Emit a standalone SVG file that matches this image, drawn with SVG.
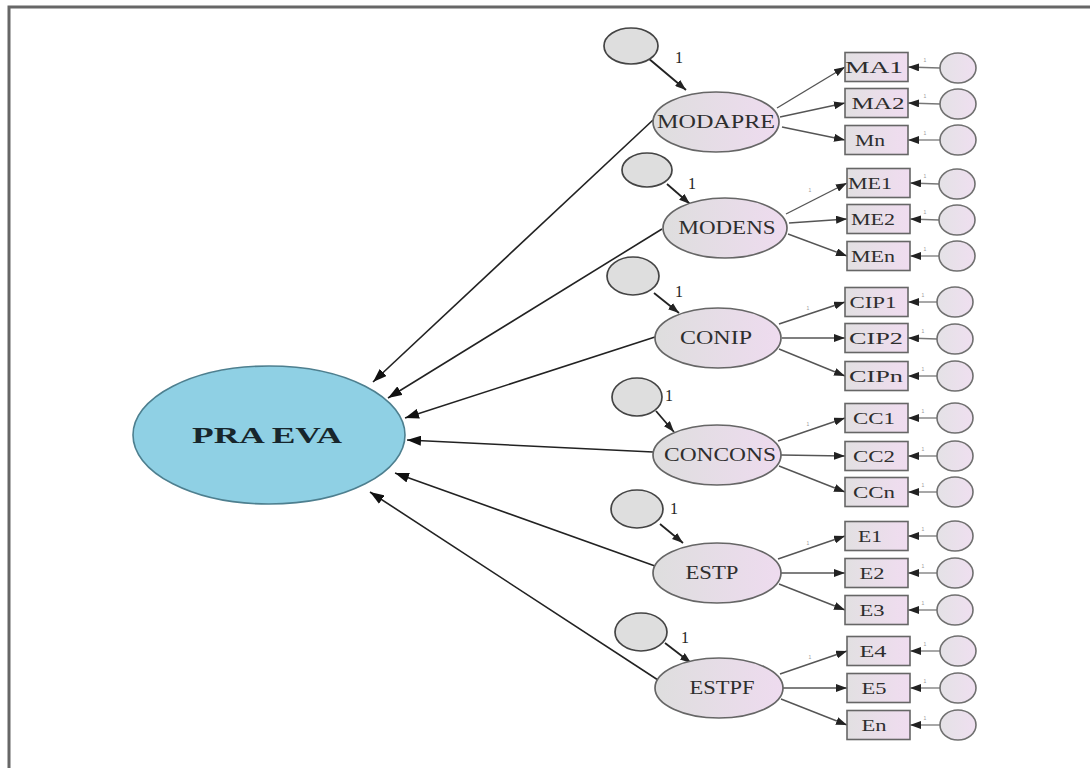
<svg xmlns="http://www.w3.org/2000/svg" width="1090" height="768" viewBox="0 0 1090 768">
<defs>
  <linearGradient id="latFill" x1="0" y1="0" x2="1" y2="0">
    <stop offset="0" stop-color="#dedede"/>
    <stop offset="1" stop-color="#eedbef"/>
  </linearGradient>
  <linearGradient id="obsFill" x1="0" y1="0" x2="1" y2="0">
    <stop offset="0" stop-color="#e2e0e2"/>
    <stop offset="1" stop-color="#f0dcf0"/>
  </linearGradient>
  <linearGradient id="resFill" x1="0" y1="0" x2="1" y2="0">
    <stop offset="0" stop-color="#e4e2e6"/>
    <stop offset="1" stop-color="#efdff0"/>
  </linearGradient>
  <marker id="ah" markerWidth="14" markerHeight="10" refX="14" refY="5" orient="auto" markerUnits="userSpaceOnUse">
    <path d="M0,0 L14,5 L0,10 z" fill="#111"/>
  </marker>
  <marker id="ahs" markerWidth="11" markerHeight="8" refX="11" refY="4" orient="auto" markerUnits="userSpaceOnUse">
    <path d="M0,0 L11,4 L0,8 z" fill="#222"/>
  </marker>
</defs>
<style>
  .lat { fill: url(#latFill); stroke: #666; stroke-width: 1.7; }
  .err { fill: #dedede; stroke: #444; stroke-width: 1.7; }
  .obs { fill: url(#obsFill); stroke: #666; stroke-width: 1.6; }
  .res { fill: url(#resFill); stroke: #707070; stroke-width: 1.6; }
  .main { fill: #8fd0e4; stroke: #4d7f8f; stroke-width: 1.6; }
  .t { font-family: "Liberation Serif", "Times New Roman", serif; fill: #2e2e2e; text-anchor: middle; }
  .lt { font-size: 18px; }
  .ot { font-size: 16px; }
  .one { font-family: "Liberation Serif", serif; font-size: 16px; fill: #222222; }
  .tiny { font-family: "Liberation Sans", sans-serif; font-size: 5px; fill: #999999; text-anchor: middle; }
  .big { stroke: #222; stroke-width: 1.6; fill: none; marker-end: url(#ah); }
  .ld { stroke: #555; stroke-width: 1.4; fill: none; marker-end: url(#ahs); }
  .ea { stroke: #222; stroke-width: 1.8; fill: none; marker-end: url(#ahs); }
  .ra { stroke: #777; stroke-width: 1.3; fill: none; marker-end: url(#ahs); }
</style>
<rect width="1090" height="768" fill="#ffffff"/>
<g id="frame">
  <path d="M9,768 L9,7 L1090,7" fill="none" stroke="#676767" stroke-width="3"/>
</g>

<g id="connectors">
  <line class="big" x1="653" y1="120" x2="373" y2="382"/>
  <line class="big" x1="662" y1="229" x2="388" y2="398"/>
  <line class="big" x1="655" y1="337" x2="405" y2="418"/>
  <line class="big" x1="653" y1="452" x2="407" y2="440"/>
  <line class="big" x1="655" y1="566" x2="395" y2="473"/>
  <line class="big" x1="658" y1="680" x2="370" y2="492"/>
  <line class="ea" x1="648" y1="58" x2="686" y2="90"/>
  <line class="ea" x1="667" y1="184" x2="690" y2="204"/>
  <line class="ea" x1="654" y1="293" x2="679" y2="313"/>
  <line class="ea" x1="656" y1="411" x2="674" y2="432"/>
  <line class="ea" x1="660" y1="524" x2="683" y2="543"/>
  <line class="ea" x1="665" y1="643" x2="691" y2="663"/>
  <text class="one" x="675" y="63">1</text>
  <text class="one" x="688" y="189">1</text>
  <text class="one" x="675" y="297">1</text>
  <text class="one" x="665" y="401">1</text>
  <text class="one" x="670" y="514">1</text>
  <text class="one" x="681" y="643">1</text>
  <line class="ld" x1="777" y1="108" x2="845" y2="67"/>
  <line class="ld" x1="780" y1="117" x2="845" y2="103"/>
  <line class="ld" x1="782" y1="127" x2="845" y2="140"/>
  <line class="ld" x1="786" y1="214" x2="847" y2="183"/>
  <line class="ld" x1="789" y1="223" x2="847" y2="219"/>
  <line class="ld" x1="788" y1="234" x2="847" y2="256"/>
  <line class="ld" x1="779" y1="324" x2="845" y2="302"/>
  <line class="ld" x1="782" y1="338" x2="845" y2="338"/>
  <line class="ld" x1="779" y1="349" x2="845" y2="376"/>
  <line class="ld" x1="778" y1="441" x2="845" y2="418"/>
  <line class="ld" x1="781" y1="455" x2="845" y2="456"/>
  <line class="ld" x1="779" y1="466" x2="845" y2="492"/>
  <line class="ld" x1="778" y1="559" x2="845" y2="536"/>
  <line class="ld" x1="781" y1="573" x2="845" y2="573"/>
  <line class="ld" x1="779" y1="584" x2="845" y2="610"/>
  <line class="ld" x1="780" y1="674" x2="847" y2="651"/>
  <line class="ld" x1="783" y1="688" x2="847" y2="688"/>
  <line class="ld" x1="781" y1="699" x2="847" y2="725"/>
  <text class="tiny" x="810" y="192">1</text>
  <text class="tiny" x="808" y="310">1</text>
  <text class="tiny" x="808" y="426">1</text>
  <text class="tiny" x="808" y="545">1</text>
  <text class="tiny" x="810" y="659">1</text>
  <line class="ra" x1="940" y1="68" x2="908" y2="67"/>
  <line class="ra" x1="940" y1="104" x2="908" y2="103"/>
  <line class="ra" x1="940" y1="140" x2="908" y2="140"/>
  <line class="ra" x1="939" y1="184" x2="910" y2="183"/>
  <line class="ra" x1="939" y1="220" x2="910" y2="219"/>
  <line class="ra" x1="939" y1="256" x2="910" y2="256"/>
  <line class="ra" x1="937" y1="302" x2="908" y2="302"/>
  <line class="ra" x1="937" y1="339" x2="908" y2="338"/>
  <line class="ra" x1="937" y1="376" x2="908" y2="376"/>
  <line class="ra" x1="937" y1="418" x2="908" y2="418"/>
  <line class="ra" x1="937" y1="456" x2="908" y2="456"/>
  <line class="ra" x1="937" y1="492" x2="908" y2="492"/>
  <line class="ra" x1="937" y1="536" x2="908" y2="536"/>
  <line class="ra" x1="937" y1="573" x2="908" y2="573"/>
  <line class="ra" x1="937" y1="610" x2="908" y2="610"/>
  <line class="ra" x1="940" y1="651" x2="910" y2="651"/>
  <line class="ra" x1="940" y1="688" x2="910" y2="688"/>
  <line class="ra" x1="940" y1="725" x2="910" y2="725"/>
  <text class="tiny" x="925" y="62">1</text>
  <text class="tiny" x="925" y="98">1</text>
  <text class="tiny" x="925" y="135">1</text>
  <text class="tiny" x="925" y="178">1</text>
  <text class="tiny" x="925" y="214">1</text>
  <text class="tiny" x="925" y="251">1</text>
  <text class="tiny" x="923" y="297">1</text>
  <text class="tiny" x="923" y="333">1</text>
  <text class="tiny" x="923" y="371">1</text>
  <text class="tiny" x="923" y="413">1</text>
  <text class="tiny" x="923" y="451">1</text>
  <text class="tiny" x="923" y="487">1</text>
  <text class="tiny" x="923" y="531">1</text>
  <text class="tiny" x="923" y="568">1</text>
  <text class="tiny" x="923" y="605">1</text>
  <text class="tiny" x="925" y="646">1</text>
  <text class="tiny" x="925" y="683">1</text>
  <text class="tiny" x="925" y="720">1</text>
</g>

<g id="PRAEVA">
  <ellipse class="main" cx="269" cy="435" rx="136" ry="69"/>
  <text class="t" x="267" y="443" font-size="23" font-weight="bold" textLength="150" lengthAdjust="spacingAndGlyphs" style="fill:#17262c">PRA EVA</text>
</g>

<g id="MODAPRE">
  <ellipse class="err" cx="631" cy="46" rx="27" ry="18"/>
  <ellipse class="lat" cx="716" cy="122" rx="63" ry="30"/>
  <text class="t lt" x="716" y="128" textLength="118" lengthAdjust="spacingAndGlyphs">MODAPRE</text>
</g>
<g id="MODENS">
  <ellipse class="err" cx="647" cy="170" rx="25" ry="17"/>
  <ellipse class="lat" cx="725" cy="228" rx="62" ry="30"/>
  <text class="t lt" x="727" y="234" textLength="97" lengthAdjust="spacingAndGlyphs">MODENS</text>
</g>
<g id="CONIP">
  <ellipse class="err" cx="633" cy="276" rx="26" ry="19"/>
  <ellipse class="lat" cx="718" cy="338" rx="63" ry="30"/>
  <text class="t lt" x="716" y="344" textLength="72" lengthAdjust="spacingAndGlyphs">CONIP</text>
</g>
<g id="CONCONS">
  <ellipse class="err" cx="637" cy="397" rx="25" ry="19"/>
  <ellipse class="lat" cx="717" cy="455" rx="64" ry="30"/>
  <text class="t lt" x="720" y="461" textLength="112" lengthAdjust="spacingAndGlyphs">CONCONS</text>
</g>
<g id="ESTP">
  <ellipse class="err" cx="637" cy="509" rx="26" ry="19"/>
  <ellipse class="lat" cx="717" cy="573" rx="64" ry="30"/>
  <text class="t lt" x="712" y="579" textLength="53" lengthAdjust="spacingAndGlyphs">ESTP</text>
</g>
<g id="ESTPF">
  <ellipse class="err" cx="641" cy="632" rx="26" ry="19"/>
  <ellipse class="lat" cx="719" cy="688" rx="64" ry="30"/>
  <text class="t lt" x="722" y="694" textLength="65" lengthAdjust="spacingAndGlyphs">ESTPF</text>
</g>

<g id="MA1"><rect class="obs" x="845" y="52.5" width="63" height="29"/><ellipse class="res" cx="958" cy="68" rx="18" ry="15"/><text class="t ot" x="874" y="73" textLength="58" lengthAdjust="spacingAndGlyphs">MA1</text></g>
<g id="MA2"><rect class="obs" x="845" y="88.5" width="63" height="29"/><ellipse class="res" cx="958" cy="104" rx="18" ry="15"/><text class="t ot" x="878" y="109" textLength="53" lengthAdjust="spacingAndGlyphs">MA2</text></g>
<g id="Mn"><rect class="obs" x="845" y="125.5" width="63" height="29"/><ellipse class="res" cx="958" cy="140" rx="18" ry="15"/><text class="t ot" x="870" y="146" textLength="30" lengthAdjust="spacingAndGlyphs">Mn</text></g>

<g id="ME1"><rect class="obs" x="847" y="168.5" width="63" height="29"/><ellipse class="res" cx="957" cy="184" rx="18" ry="15"/><text class="t ot" x="870" y="189" textLength="44" lengthAdjust="spacingAndGlyphs">ME1</text></g>
<g id="ME2"><rect class="obs" x="847" y="204.5" width="63" height="29"/><ellipse class="res" cx="957" cy="220" rx="18" ry="15"/><text class="t ot" x="873" y="225" textLength="44" lengthAdjust="spacingAndGlyphs">ME2</text></g>
<g id="MEn"><rect class="obs" x="847" y="241.5" width="63" height="29"/><ellipse class="res" cx="957" cy="256" rx="18" ry="15"/><text class="t ot" x="873" y="262" textLength="44" lengthAdjust="spacingAndGlyphs">MEn</text></g>

<g id="CIP1"><rect class="obs" x="845" y="287.5" width="63" height="29"/><ellipse class="res" cx="955" cy="302" rx="18" ry="15"/><text class="t ot" x="873" y="308" textLength="47" lengthAdjust="spacingAndGlyphs">CIP1</text></g>
<g id="CIP2"><rect class="obs" x="845" y="323.5" width="63" height="29"/><ellipse class="res" cx="955" cy="339" rx="18" ry="15"/><text class="t ot" x="876" y="344" textLength="54" lengthAdjust="spacingAndGlyphs">CIP2</text></g>
<g id="CIPn"><rect class="obs" x="845" y="361.5" width="63" height="29"/><ellipse class="res" cx="955" cy="376" rx="18" ry="15"/><text class="t ot" x="876" y="382" textLength="54" lengthAdjust="spacingAndGlyphs">CIPn</text></g>

<g id="CC1"><rect class="obs" x="845" y="403.5" width="63" height="29"/><ellipse class="res" cx="955" cy="418" rx="18" ry="15"/><text class="t ot" x="874" y="424" textLength="42" lengthAdjust="spacingAndGlyphs">CC1</text></g>
<g id="CC2"><rect class="obs" x="845" y="441.5" width="63" height="29"/><ellipse class="res" cx="955" cy="456" rx="18" ry="15"/><text class="t ot" x="874" y="462" textLength="42" lengthAdjust="spacingAndGlyphs">CC2</text></g>
<g id="CCn"><rect class="obs" x="845" y="477.5" width="63" height="29"/><ellipse class="res" cx="955" cy="492" rx="18" ry="15"/><text class="t ot" x="874" y="498" textLength="42" lengthAdjust="spacingAndGlyphs">CCn</text></g>

<g id="E1"><rect class="obs" x="845" y="521.5" width="63" height="29"/><ellipse class="res" cx="955" cy="536" rx="18" ry="15"/><text class="t ot" x="870" y="542" textLength="24" lengthAdjust="spacingAndGlyphs">E1</text></g>
<g id="E2"><rect class="obs" x="845" y="558.5" width="63" height="29"/><ellipse class="res" cx="955" cy="573" rx="18" ry="15"/><text class="t ot" x="872" y="579" textLength="25" lengthAdjust="spacingAndGlyphs">E2</text></g>
<g id="E3"><rect class="obs" x="845" y="595.5" width="63" height="29"/><ellipse class="res" cx="955" cy="610" rx="18" ry="15"/><text class="t ot" x="872" y="616" textLength="25" lengthAdjust="spacingAndGlyphs">E3</text></g>

<g id="E4"><rect class="obs" x="847" y="636.5" width="63" height="29"/><ellipse class="res" cx="958" cy="651" rx="18" ry="15"/><text class="t ot" x="873" y="657" textLength="27" lengthAdjust="spacingAndGlyphs">E4</text></g>
<g id="E5"><rect class="obs" x="847" y="673.5" width="63" height="29"/><ellipse class="res" cx="958" cy="688" rx="18" ry="15"/><text class="t ot" x="874" y="694" textLength="25" lengthAdjust="spacingAndGlyphs">E5</text></g>
<g id="En"><rect class="obs" x="847" y="710.5" width="63" height="29"/><ellipse class="res" cx="958" cy="725" rx="18" ry="15"/><text class="t ot" x="874" y="731" textLength="25" lengthAdjust="spacingAndGlyphs">En</text></g>
</svg>
